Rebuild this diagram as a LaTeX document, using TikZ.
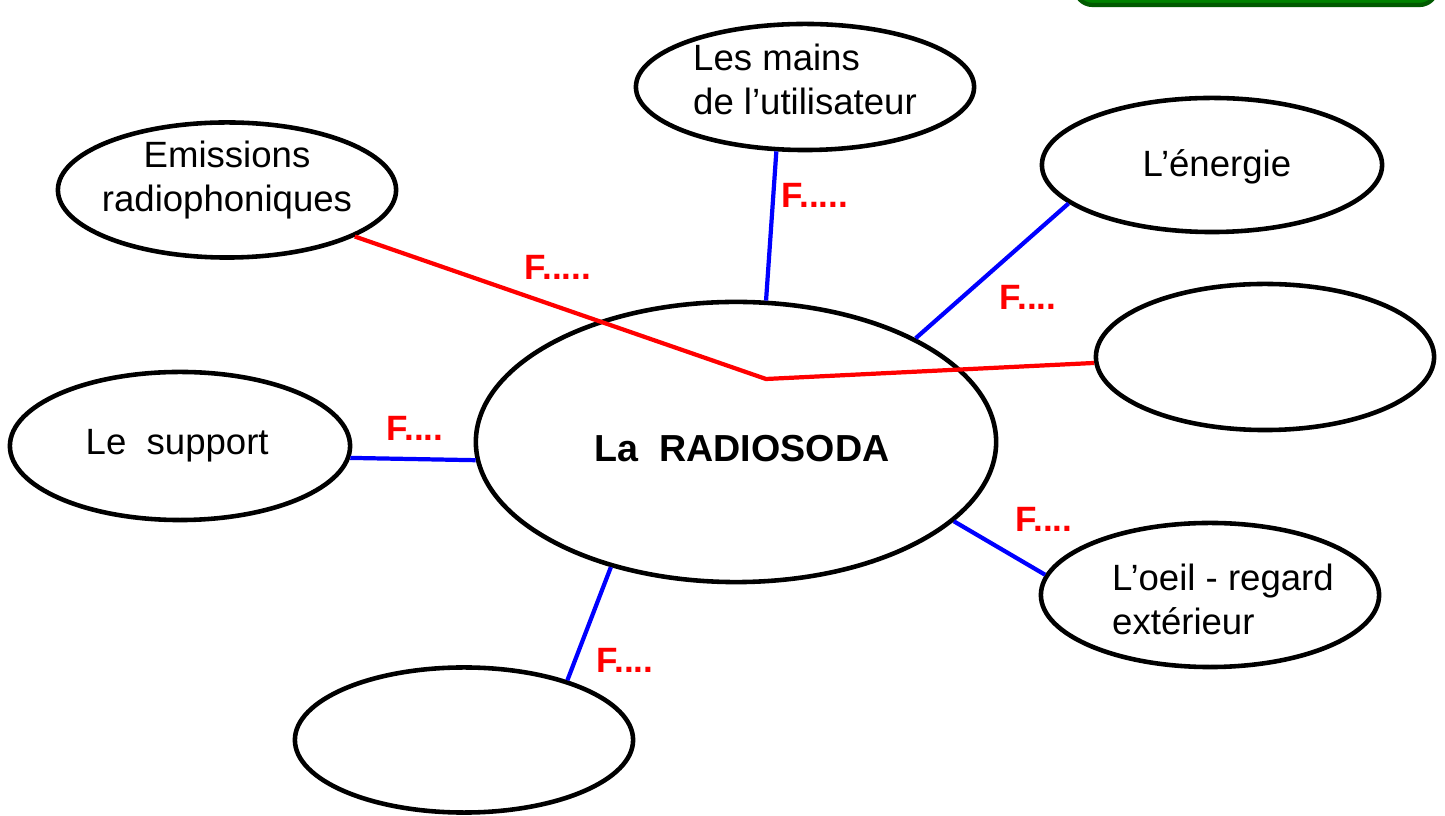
\documentclass[tikz,border=0pt]{standalone}
\usepackage{fontspec}
\setmainfont{Liberation Sans}
\usetikzlibrary{shapes.geometric}

\begin{document}
\begin{tikzpicture}[x=0.01cm, y=-0.01cm,
    font=\fontsize{10.4}{12.4}\selectfont,
    bulle/.style={draw, ellipse, line width=1.3pt, inner sep=0pt},
    texte/.style={align=left, inner sep=0pt},
    lienF/.style={draw=blue, line width=1.2pt},
    lienR/.style={draw=red, line width=1.2pt},
    fct/.style={text=red, font=\fontsize{10}{12}\selectfont\bfseries}]
      \clip (0, 0) rectangle (1445, 816);
      % bouton vert du haut
      \draw[line width=1.2pt, draw={rgb,255:red,0;green,90;blue,0},
        fill={rgb,255:red,0;green,130;blue,0}, rounded corners=5pt]
        (1075, -40) rectangle (1437, 5);
      % objet central et milieux
      \node[bulle, minimum width=5.2cm, minimum height=2.8cm,
        label={[texte, xshift=1.7pt, yshift=-2pt, font=\fontsize{10.7}{12.4}\selectfont\bfseries]center:La~ RADIOSODA}] (radio) at (736, 442) {};
      \node[bulle, minimum width=3.38cm, minimum height=1.26cm,
        label={[texte, yshift=2.2pt]center:Les mains\\de l’utilisateur}] (mains) at (805, 87) {};
      \node[bulle, minimum width=3.38cm, minimum height=1.35cm,
        label={[texte, align=center, yshift=2.8pt]center:Emissions\\radiophoniques}] (emissions) at (227, 190) {};
      \node[bulle, minimum width=3.4cm, minimum height=1.34cm,
        label={[texte, xshift=1.4pt, yshift=-0.4pt]center:L’énergie}] (energie) at (1212, 165) {};
      \node[bulle, minimum width=3.38cm, minimum height=1.46cm] (vide1) at (1265, 357) {};
      \node[bulle, minimum width=3.4cm, minimum height=1.48cm,
        label={[texte, xshift=-0.8pt]center:Le~ support}] (support) at (180, 446) {};
      \node[bulle, minimum width=3.38cm, minimum height=1.44cm,
        label={[texte, xshift=3.7pt, yshift=-1.2pt]center:L’oeil - regard\\extérieur}] (oeil) at (1210, 595) {};
      \node[bulle, minimum width=3.38cm, minimum height=1.45cm] (vide2) at (464, 740) {};
      % liaisons
      \coordinate (pivot) at (766, 379);
      \draw[lienR] (emissions.340.6) -- (pivot) -- (vide1.182.7);
      \draw[lienF] (mains.246) -- (radio.78.6);
      \draw[lienF] (energie.195.5) -- (radio.30.2);
      \draw[lienF] (support.-4) -- (radio.184.4);
      \draw[lienF] (radio.340.2) -- (oeil.173.8);
      \draw[lienF] (radio.225) -- (vide2.30);
      % fonctions
      \node[fct] (f1) at (815, 195) {F.....};
      \node[fct] (f2) at (558, 267) {F.....};
      \node[fct] (f3) at (1028, 297) {F....};
      \node[fct] (f4) at (415, 428) {F....};
      \node[fct] (f5) at (1044, 519) {F....};
      \node[fct] (f6) at (625, 660) {F....};
    \end{tikzpicture}
\end{document}
